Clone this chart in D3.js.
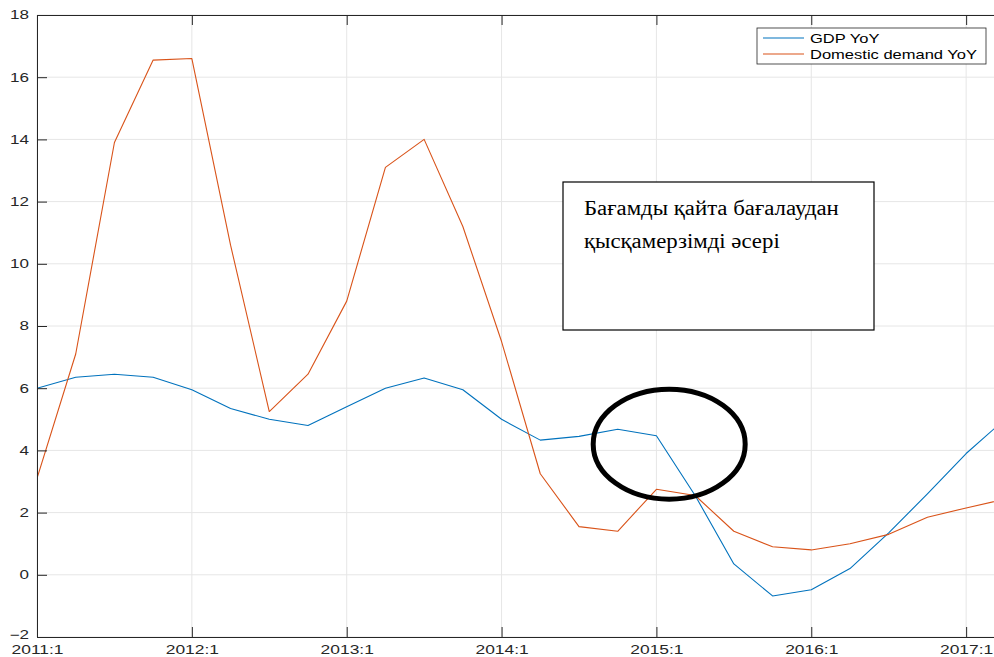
<!DOCTYPE html>
<html>
<head>
<meta charset="utf-8">
<script src="https://cdn.jsdelivr.net/npm/d3@7"></script>
<style>
  body { margin: 0; background: #fff; }
  svg { display: block; font-family: "Liberation Sans", Arial, sans-serif; }
</style>
</head>
<body>
<div id="chart"></div>
<script>
const width = 994, height = 657;
const margin = { top: 15, right: 0, bottom: 20, left: 37 };

// quarters 2011:1 .. 2017:2
const quarters = ["2011:1","2011:2","2011:3","2011:4","2012:1","2012:2","2012:3","2012:4",
  "2013:1","2013:2","2013:3","2013:4","2014:1","2014:2","2014:3","2014:4",
  "2015:1","2015:2","2015:3","2015:4","2016:1","2016:2","2016:3","2016:4",
  "2017:1","2017:2"];
const gdp = [6.0, 6.35, 6.45, 6.35, 5.95, 5.35, 5.0, 4.8, 5.4, 6.0, 6.33, 5.95,
  5.0, 4.33, 4.45, 4.68, 4.47, 2.55, 0.35, -0.68, -0.48, 0.2, 1.35, 2.6, 3.9, 5.0];
const domestic = [3.1, 7.1, 13.9, 16.55, 16.6, 10.6, 5.25, 6.45, 8.8, 13.1, 14.0, 11.2,
  7.5, 3.25, 1.55, 1.4, 2.75, 2.55, 1.4, 0.9, 0.8, 1.0, 1.3, 1.85, 2.15, 2.43];
const xTickLabels = ["2011:1","2012:1","2013:1","2014:1","2015:1","2016:1","2017:1"];
const yTicks = [-2, 0, 2, 4, 6, 8, 10, 12, 14, 16, 18];
const seriesNames = ["GDP YoY", "Domestic demand YoY"];
const colors = ["#0072BD", "#D95319"];
const noteLines = ["Бағамды қайта бағалаудан", "қысқамерзімді әсері"];

// the source figure was stretched sideways, so text is widened to match
function stretch(sel, k) {
  sel.each(function() {
    const w = this.getComputedTextLength();
    d3.select(this).attr("textLength", w * k).attr("lengthAdjust", "spacingAndGlyphs");
  });
}

const svg = d3.select("#chart").append("svg")
  .attr("width", width).attr("height", height);

const x = d3.scaleLinear()
  .domain([0, 24.72])
  .range([margin.left, width - margin.right]);
const y = d3.scaleLinear()
  .domain([-2, 18])
  .range([height - margin.bottom, margin.top]);

const xTickIdx = xTickLabels.map(l => quarters.indexOf(l));

// grid
svg.append("g").selectAll("line").data(xTickIdx).join("line")
  .attr("x1", d => x(d)).attr("x2", d => x(d))
  .attr("y1", y(-2)).attr("y2", y(18))
  .attr("stroke", "#e6e6e6").attr("stroke-width", 1);
svg.append("g").selectAll("line").data(yTicks).join("line")
  .attr("x1", x(0)).attr("x2", width)
  .attr("y1", d => y(d)).attr("y2", d => y(d))
  .attr("stroke", "#e6e6e6").attr("stroke-width", 1);

svg.append("clipPath").attr("id", "plot")
  .append("rect")
  .attr("x", margin.left).attr("y", margin.top)
  .attr("width", width - margin.left).attr("height", height - margin.top - margin.bottom);

const line = d3.line().x((d, i) => x(i)).y(d => y(d));
[gdp, domestic].forEach((s, k) => {
  svg.append("path")
    .attr("clip-path", "url(#plot)")
    .attr("fill", "none")
    .attr("stroke", colors[k])
    .attr("stroke-width", 1.1)
    .attr("stroke-linejoin", "round")
    .attr("d", line(s));
});

// axes, ticks pointing inward
const gx = svg.append("g")
  .attr("transform", `translate(0,${y(-2)})`)
  .call(d3.axisBottom(x).tickValues(xTickIdx)
    .tickFormat((d, i) => xTickLabels[i]).tickSize(-10).tickPadding(8).tickSizeOuter(0));
gx.selectAll("text").attr("font-size", 12).attr("fill", "#262626")
  .attr("font-family", "Liberation Sans, Arial, sans-serif")
  .call(stretch, 1.45);

svg.append("g").attr("transform", `translate(0,${y(18)})`)
  .call(d3.axisTop(x).tickValues(xTickIdx).tickFormat("").tickSize(-10).tickSizeOuter(0));

const gy = svg.append("g")
  .attr("transform", `translate(${x(0)},0)`)
  .call(d3.axisLeft(y).tickValues(yTicks).tickSize(-10).tickPadding(8).tickSizeOuter(0));
gy.selectAll("text").attr("font-size", 12).attr("fill", "#262626")
  .attr("font-family", "Liberation Sans, Arial, sans-serif")
  .attr("dy", d => d === -2 ? "0.1em" : "0.32em")
  .call(stretch, 1.42);

svg.selectAll(".domain").attr("stroke", "#262626");
svg.selectAll(".tick line").attr("stroke", "#262626");

// legend
const leg = svg.append("g").attr("transform", "translate(757,28)");
leg.append("rect").attr("width", 229).attr("height", 36)
  .attr("fill", "#fff").attr("stroke", "#262626").attr("stroke-width", 0.8);
seriesNames.forEach((n, i) => {
  const yy = 10 + i * 16;
  leg.append("line").attr("x1", 6).attr("x2", 47).attr("y1", yy).attr("y2", yy)
    .attr("stroke", colors[i]).attr("stroke-width", 1.1);
  leg.append("text").attr("x", 53).attr("y", yy + 4.5)
    .attr("font-size", 13).attr("fill", "#000").text(n)
    .call(stretch, 1.27);
});

// annotation box
const note = svg.append("g").attr("transform", "translate(563,182)");
note.append("rect").attr("width", 311).attr("height", 148)
  .attr("fill", "#fff").attr("stroke", "#000").attr("stroke-width", 1.2);
noteLines.forEach((t, i) => {
  note.append("text").attr("x", 21).attr("y", 33 + i * 33)
    .attr("font-family", "Liberation Serif, Times New Roman, serif")
    .attr("font-size", 20).attr("fill", "#000").text(t)
    .call(stretch, 1.14);
});

// ellipse highlight
svg.append("ellipse")
  .attr("cx", x(16.33)).attr("cy", y(4.2))
  .attr("rx", 76).attr("ry", 55)
  .attr("fill", "none").attr("stroke", "#000").attr("stroke-width", 5);
</script>
</body>
</html>
